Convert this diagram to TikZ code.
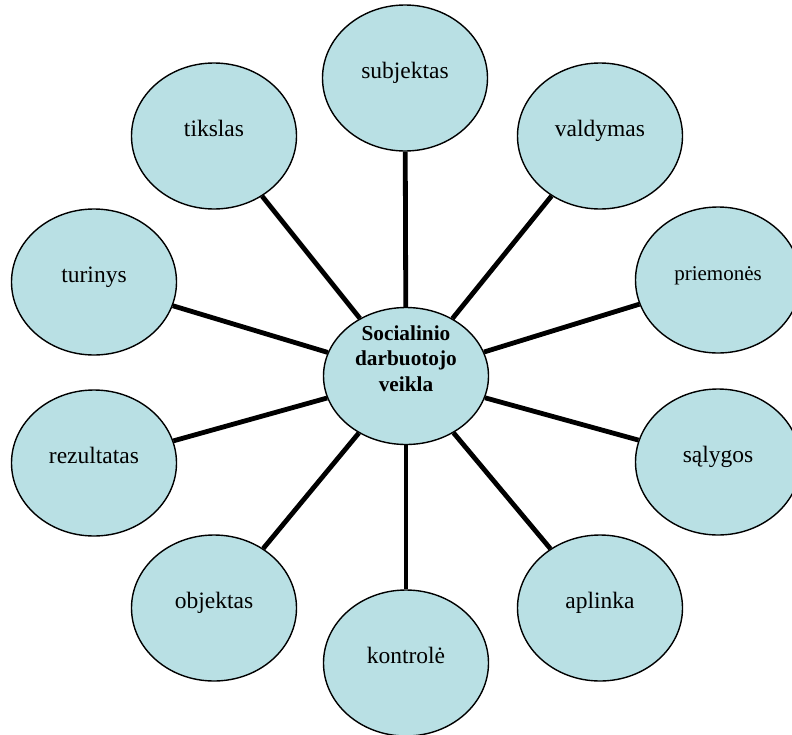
\documentclass[tikz,border=0pt]{standalone}
\usepackage{fontspec}
\setmainfont{Liberation Serif}
\usetikzlibrary{shapes.geometric}
\definecolor{bubblefill}{RGB}{185,224,228}
\tikzset{
  bubble/.style={ellipse,draw,line width=1.4pt,fill=bubblefill,
    minimum width=165pt,minimum height=146pt,inner sep=0pt,
    text height=0.7em,text depth=0.7em,
    font=\fontsize{23.5}{28}\selectfont},
  spoke/.style={line width=4.8pt}
}
\begin{document}
\begin{tikzpicture}[x=1pt,y=-1pt]
    \useasboundingbox (0,0) rectangle (792,734);
    \node[bubble,minimum height=137pt,align=center,text height=30pt,text depth=0pt,
      font=\fontsize{21.3}{25.5}\selectfont\bfseries] (SDV) at (406,376)
      {Socialinio\\darbuotojo\\veikla};
    \node[bubble] (subj) at (405,78) {subjektas};
    \node[bubble] (vald) at (600,136) {valdymas};
    \node[bubble,font=\fontsize{21}{25}\selectfont] (priem) at (718,280) {priemonės};
    \node[bubble] (salyg) at (718,462) {sąlygos};
    \node[bubble] (apl) at (600,608) {aplinka};
    \node[bubble] (kontr) at (406,663) {kontrolė};
    \node[bubble] (obj) at (214,608) {objektas};
    \node[bubble] (rez) at (94,463) {rezultatas};
    \node[bubble] (tur) at (94,282) {turinys};
    \node[bubble] (tiks) at (214,136) {tikslas};
    % spokes from the centre
    \draw[spoke] (SDV) -- (subj);
    \draw[spoke] (SDV) -- (vald);
    \draw[spoke] (SDV) -- (priem);
    \draw[spoke] (SDV) -- (salyg);
    \draw[spoke] (SDV) -- (apl);
    \draw[spoke] (SDV) -- (kontr);
    \draw[spoke] (SDV) -- (obj);
    \draw[spoke] (SDV) -- (rez);
    \draw[spoke] (SDV) -- (tur);
    \draw[spoke] (SDV) -- (tiks);
\end{tikzpicture}
\end{document}
